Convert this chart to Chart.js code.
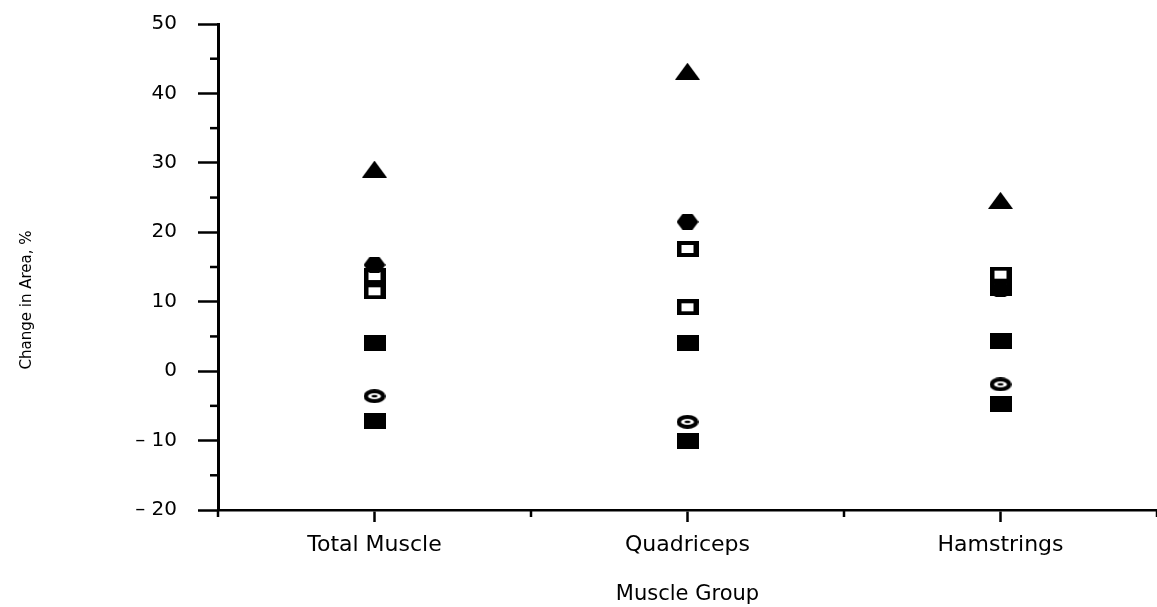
<!DOCTYPE html>
<html><head><meta charset="utf-8">
<script src="https://cdn.jsdelivr.net/npm/chart.js@4/dist/chart.umd.min.js"></script>
<style>html,body{margin:0;padding:0;background:#fff;} #wrap{width:1157px;height:607px;position:relative;} canvas{filter:blur(0.6px);}</style>
</head><body><div id="wrap"><canvas id="c" width="1157" height="607"></canvas></div>
<script>
const categories = ['Total Muscle', 'Quadriceps', 'Hamstrings'];
const seriesTriangle      = [29.1, 43.2, 24.6];
const seriesFilledDiamond = [15.3, 21.5, 11.8];
const seriesOpenSquareA   = [13.7, 17.6, 13.9];
const seriesOpenSquareB   = [11.5, 9.2, 12.0];
const seriesFilledSquareA = [4.0, 4.0, 4.3];
const seriesOpenDiamond   = [-3.6, -7.3, -1.9];
const seriesFilledSquareB = [-7.2, -10.1, -4.8];
const yTickValues = [-20, -10, 0, 10, 20, 30, 40, 50];
const yTickLabels = ['\u2013 20', '\u2013 10', '0', '10', '20', '30', '40', '50'];
const xTitle = 'Muscle Group';
const yTitle = 'Change in Area, %';

const FONT = '"DejaVu Sans", "Liberation Sans", Arial, sans-serif';

function mk(w, h, draw) { const c = document.createElement('canvas'); c.width = w; c.height = h; const g = c.getContext('2d'); g.fillStyle = '#000'; g.strokeStyle = '#000'; draw(g, w, h); return c; }
const imgTriangle = mk(25, 17, (g, w, h) => { g.beginPath(); g.moveTo(w / 2, 0); g.lineTo(w, h); g.lineTo(0, h); g.closePath(); g.fill(); });
const imgFilledSquare = mk(22, 16, (g, w, h) => { g.fillRect(0, 0, w, h); });
const imgOpenSquare = mk(22, 16, (g, w, h) => { g.fillRect(0, 0, w, h); g.fillStyle = '#fff'; g.fillRect(5, 4, w - 10, h - 8); });
const imgFilledDiamond = mk(22, 16, (g, w, h) => { g.beginPath(); g.moveTo(6, 0); g.lineTo(16, 0); g.lineTo(22, 8); g.lineTo(16, 16); g.lineTo(6, 16); g.lineTo(0, 8); g.closePath(); g.fill(); });
const imgOpenDiamond = mk(22, 14, (g, w, h) => {
  g.beginPath(); g.ellipse(w / 2, h / 2, w / 2, h / 2, 0, 0, Math.PI * 2); g.fill();
  g.fillStyle = '#fff'; g.beginPath(); g.ellipse(w / 2, h / 2, 6.5, 3, 0, 0, Math.PI * 2); g.fill();
  g.fillStyle = '#000'; g.beginPath(); g.ellipse(w / 2, h / 2, 3, 1.2, 0, 0, Math.PI * 2); g.fill();
});

const toPts = arr => arr.map((v, i) => ({ x: i, y: v }));
function ds(label, arr, img) {
  return { label, data: toPts(arr), pointStyle: img, pointRadius: 10, pointHoverRadius: 10, showLine: false, backgroundColor: '#000', borderColor: '#000' };
}

const minorTicks = {
  id: 'minorTicks',
  afterDraw(chart) {
    const ctx = chart.ctx, xs = chart.scales.x, ys = chart.scales.y, a = chart.chartArea;
    ctx.save(); ctx.strokeStyle = '#000'; ctx.lineWidth = 2.5;
    ys.ticks.forEach(t => { if (t.value % 10 !== 0) { const p = ys.getPixelForValue(t.value); ctx.beginPath(); ctx.moveTo(a.left - 8, p); ctx.lineTo(a.left, p); ctx.stroke(); } });
    xs.ticks.forEach(t => { if (!Number.isInteger(t.value)) { const p = xs.getPixelForValue(t.value); ctx.beginPath(); ctx.moveTo(p, a.bottom); ctx.lineTo(p, a.bottom + 7); ctx.stroke(); } });
    ctx.fillStyle = '#000'; ctx.font = '15px ' + FONT; ctx.textAlign = 'center'; ctx.textBaseline = 'middle';
    ctx.translate(27, 300); ctx.rotate(-Math.PI / 2); ctx.fillText(yTitle, 0, 0);
    ctx.restore();
  }
};

new Chart(document.getElementById('c'), {
  type: 'scatter',
  data: {
    datasets: [
      ds('Triangle', seriesTriangle, imgTriangle),
      ds('Filled diamond', seriesFilledDiamond, imgFilledDiamond),
      ds('Open square A', seriesOpenSquareA, imgOpenSquare),
      ds('Open square B', seriesOpenSquareB, imgOpenSquare),
      ds('Filled square A', seriesFilledSquareA, imgFilledSquare),
      ds('Open diamond', seriesOpenDiamond, imgOpenDiamond),
      ds('Filled square B', seriesFilledSquareB, imgFilledSquare)
    ]
  },
  options: {
    responsive: false, animation: false, devicePixelRatio: 1,
    layout: { autoPadding: false, padding: { top: 24, right: 0, left: 0, bottom: 0 } },
    plugins: { legend: { display: false }, tooltip: { enabled: false } },
    scales: {
      x: {
        type: 'linear', min: -0.5, max: 2.5,
        afterBuildTicks: s => { const t = []; for (let v = -0.5; v <= 2.5; v += 0.5) t.push({ value: v }); s.ticks = t; },
        afterFit: s => { s.height = 97; s.paddingLeft = 0; s.paddingRight = 0; },
        ticks: { autoSkip: false, maxRotation: 0, padding: 10, color: '#000', font: { family: FONT, size: 22 },
          callback: v => Number.isInteger(v) ? categories[v] : '' },
        grid: { drawOnChartArea: false, tickLength: 12, tickWidth: 2.5,
          tickColor: c => (c.tick && Number.isInteger(c.tick.value)) ? '#000' : 'rgba(0,0,0,0)' },
        border: { display: true, color: '#000', width: 2.5 },
        title: { display: true, text: xTitle, color: '#000', font: { family: FONT, size: 21 }, padding: { top: 0, bottom: 0 } }
      },
      y: {
        min: -20, max: 50,
        afterBuildTicks: s => { const t = []; for (let v = -20; v <= 50; v += 5) t.push({ value: v }); s.ticks = t; },
        afterFit: s => { s.width = 218; s.paddingTop = 0; s.paddingBottom = 0; },
        ticks: { padding: 21, color: '#000', font: { family: FONT, size: 20 },
          callback: v => { const i = yTickValues.indexOf(v); return i >= 0 ? yTickLabels[i] : ''; } },
        grid: { drawOnChartArea: false, tickLength: 20, tickWidth: 2.5,
          tickColor: c => (c.tick && c.tick.value % 10 === 0) ? '#000' : 'rgba(0,0,0,0)' },
        border: { display: true, color: '#000', width: 3 }
      }
    }
  },
  plugins: [minorTicks]
});
</script></body></html>
